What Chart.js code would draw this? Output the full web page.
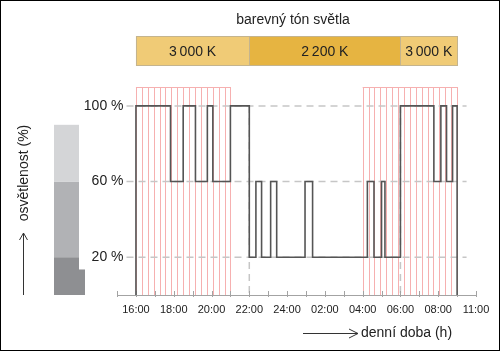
<!DOCTYPE html>
<html>
<head>
<meta charset="utf-8">
<script src="https://cdn.jsdelivr.net/npm/chart.js@4.4.1/dist/chart.umd.min.js"></script>
<style>
  html, body { margin: 0; padding: 0; background: #fff; }
</style>
</head>
<body>
<canvas id="lightChart" width="500" height="351"></canvas>
<script>
// step curve: time in hours (24 = midnight, 26 = 02:00 ...) and brightness in %
const stepTimes  = [16, 16, 17.83, 18.5, 19.15, 19.78, 20.07, 21, 22, 22.35, 22.65, 23.13, 23.45, 24.95, 25.35, 28.25, 28.6, 29.0, 29.18, 30, 31.77, 32.14, 32.44, 32.76, 33];
const stepValues = [0, 100, 60, 100, 60, 100, 60, 100, 20, 60, 20, 60, 20, 60, 20, 60, 20, 60, 20, 100, 60, 100, 60, 100, 0];

// x tick labels
const tickHours  = [16, 18, 20, 22, 24, 26, 28, 30, 32, 34];
const tickLabels = ['16:00', '18:00', '20:00', '22:00', '24:00', '02:00', '04:00', '06:00', '08:00', '11:00'];
const yTicks = [20, 60, 100];
const axisStart = 15;

// colour temperature band
const cctStarts = [16, 22, 30];
const cctEnds   = [22, 30, 33];
const cctLabels = ['3\u2009000 K', '2\u2009200 K', '3\u2009000 K'];
const cctColors = ['#f0cb76', '#e6b441', '#f0cb76'];

// striped (pink) periods
const stripeStarts = [16, 28];
const stripeEnds   = [21, 33];
const stripeCount  = 16;

// dashed marker lines
const markerHours = [22, 30];

// grey level legend on the left
const levelEdges  = [0, 20, 60, 90];
const levelColors = ['#8e8f92', '#b1b2b5', '#d4d5d7'];
const notchTop = 13.5;

const FONT = '"Liberation Sans", Arial, Helvetica, sans-serif';
const TEXT = '#222';

const points = stepTimes.map((t, i) => ({ x: t, y: stepValues[i] }));

const decorPlugin = {
    id: 'decor',
    beforeDatasetsDraw(chart) {
        const ctx = chart.ctx;
        const x = chart.scales.x, y = chart.scales.y;
        const area = chart.chartArea;
        ctx.save();

        // pink stripes
        ctx.strokeStyle = '#f6b0b0';
        ctx.lineWidth = 1;
        for (let r = 0; r < stripeStarts.length; r++) {
            const x0 = x.getPixelForValue(stripeStarts[r]);
            const x1 = x.getPixelForValue(stripeEnds[r]);
            ctx.beginPath();
            for (let k = 0; k <= stripeCount; k++) {
                const px = Math.round(x0 + (x1 - x0) * k / stripeCount) + 0.5;
                ctx.moveTo(px, area.top);
                ctx.lineTo(px, area.bottom);
            }
            ctx.moveTo(x0, area.top + 0.5);
            ctx.lineTo(x1, area.top + 0.5);
            ctx.stroke();
        }

        // dashed horizontal grid
        ctx.strokeStyle = '#c6c6c6';
        ctx.lineWidth = 1.5;
        ctx.setLineDash([7, 5]);
        const gx0 = area.left, gx1 = x.getPixelForValue(33.5);
        yTicks.forEach(v => {
            const py = y.getPixelForValue(v);
            ctx.beginPath();
            ctx.moveTo(gx0, py);
            ctx.lineTo(gx1, py);
            ctx.stroke();
        });
        // dashed vertical markers
        markerHours.forEach(h => {
            const px = x.getPixelForValue(h);
            ctx.beginPath();
            ctx.moveTo(px, y.getPixelForValue(100));
            ctx.lineTo(px, area.bottom);
            ctx.stroke();
        });
        ctx.setLineDash([]);

        // x axis line + hour ticks
        ctx.strokeStyle = '#a3a3a3';
        ctx.lineWidth = 1;
        ctx.beginPath();
        ctx.moveTo(x.getPixelForValue(axisStart), area.bottom + 0.5);
        ctx.lineTo(area.right, area.bottom + 0.5);
        for (let h = axisStart; h <= x.max; h++) {
            const px = Math.round(x.getPixelForValue(h)) + 0.5;
            ctx.moveTo(px, area.bottom - 4);
            ctx.lineTo(px, area.bottom + 2);
        }
        ctx.stroke();
        ctx.restore();
    },
    afterDraw(chart) {
        const ctx = chart.ctx;
        const x = chart.scales.x, y = chart.scales.y;
        ctx.save();

        // title
        ctx.fillStyle = TEXT;
        ctx.font = '14px ' + FONT;
        ctx.textAlign = 'center';
        ctx.textBaseline = 'middle';
        ctx.fillText('barevný tón světla', 293, 20);

        // colour temperature band
        const bTop = 36, bBot = 66;
        for (let i = 0; i < cctStarts.length; i++) {
            const x0 = x.getPixelForValue(cctStarts[i]);
            const x1 = x.getPixelForValue(cctEnds[i]);
            ctx.fillStyle = cctColors[i];
            ctx.fillRect(x0, bTop, x1 - x0, bBot - bTop);
            ctx.strokeStyle = '#c4b48e';
            ctx.lineWidth = 1;
            ctx.strokeRect(Math.round(x0) + 0.5, bTop + 0.5, Math.round(x1 - x0), bBot - bTop - 1);
            ctx.fillStyle = TEXT;
            ctx.fillText(cctLabels[i], (x0 + x1) / 2, (bTop + bBot) / 2 + 1);
        }

        // grey level legend
        const lx0 = 54, lx1 = 79, lx2 = 85;
        for (let i = 0; i < levelColors.length; i++) {
            const yTop = y.getPixelForValue(levelEdges[i + 1]);
            const yBot = y.getPixelForValue(levelEdges[i]);
            ctx.fillStyle = levelColors[i];
            ctx.fillRect(lx0, yTop, lx1 - lx0, yBot - yTop);
        }
        ctx.fillStyle = levelColors[0];
        const ny = y.getPixelForValue(notchTop);
        ctx.fillRect(lx1, ny, lx2 - lx1, y.getPixelForValue(0) - ny);

        // y axis title with arrow
        ctx.save();
        ctx.translate(24, 173);
        ctx.rotate(-Math.PI / 2);
        ctx.fillStyle = TEXT;
        ctx.font = '14px ' + FONT;
        ctx.textAlign = 'center';
        ctx.fillText('osvětlenost (%)', 0, 0);
        ctx.restore();

        ctx.strokeStyle = '#333';
        ctx.lineWidth = 1;
        ctx.beginPath();
        ctx.moveTo(23.5, 295);
        ctx.lineTo(23.5, 233);
        ctx.moveTo(19.5, 240);
        ctx.lineTo(23.5, 233);
        ctx.lineTo(27.5, 240);
        // x axis title arrow
        ctx.moveTo(303, 333.5);
        ctx.lineTo(358, 333.5);
        ctx.moveTo(349, 329);
        ctx.lineTo(358, 333.5);
        ctx.lineTo(349, 338);
        ctx.stroke();

        ctx.fillStyle = TEXT;
        ctx.textAlign = 'left';
        ctx.fillText('denní doba (h)', 361, 333);

        // frame
        ctx.strokeStyle = '#000';
        ctx.strokeRect(0.5, 0.5, chart.width - 1, chart.height - 1);
        ctx.restore();
    }
};

const ctx = document.getElementById('lightChart').getContext('2d');
window.myChart = new Chart(ctx, {
    type: 'line',
    data: {
        datasets: [{
            label: 'osvětlenost',
            data: points,
            stepped: true,
            borderColor: '#555555',
            borderWidth: 1.6,
            pointRadius: 0,
            fill: false
        }]
    },
    options: {
        responsive: false,
        animation: false,
        layout: { padding: { top: 87, right: 24, bottom: 0, left: 0 } },
        scales: {
            x: {
                type: 'linear',
                min: 15.5,
                max: 34,
                afterFit: scale => { scale.height = 56; },
                afterBuildTicks: scale => {
                    const t = [];
                    for (let h = 16; h <= 34; h++) t.push({ value: h });
                    scale.ticks = t;
                },
                border: { display: false },
                grid: { display: false, drawTicks: false, tickLength: 0 },
                ticks: {
                    autoSkip: false,
                    maxRotation: 0,
                    padding: 8,
                    color: TEXT,
                    font: { family: FONT, size: 11 },
                    callback: value => {
                        const i = tickHours.indexOf(value);
                        return i >= 0 ? tickLabels[i] : '';
                    }
                }
            },
            y: {
                min: 0,
                max: 110,
                afterFit: scale => { scale.width = 126.5; },
                afterBuildTicks: scale => { scale.ticks = yTicks.map(v => ({ value: v })); },
                border: { display: false },
                grid: { display: false, drawTicks: false, tickLength: 0 },
                ticks: {
                    padding: 3,
                    color: TEXT,
                    font: { family: FONT, size: 14 },
                    callback: value => value + ' %'
                }
            }
        },
        plugins: {
            legend: { display: false },
            tooltip: { enabled: false }
        }
    },
    plugins: [decorPlugin]
});
</script>
</body>
</html>
